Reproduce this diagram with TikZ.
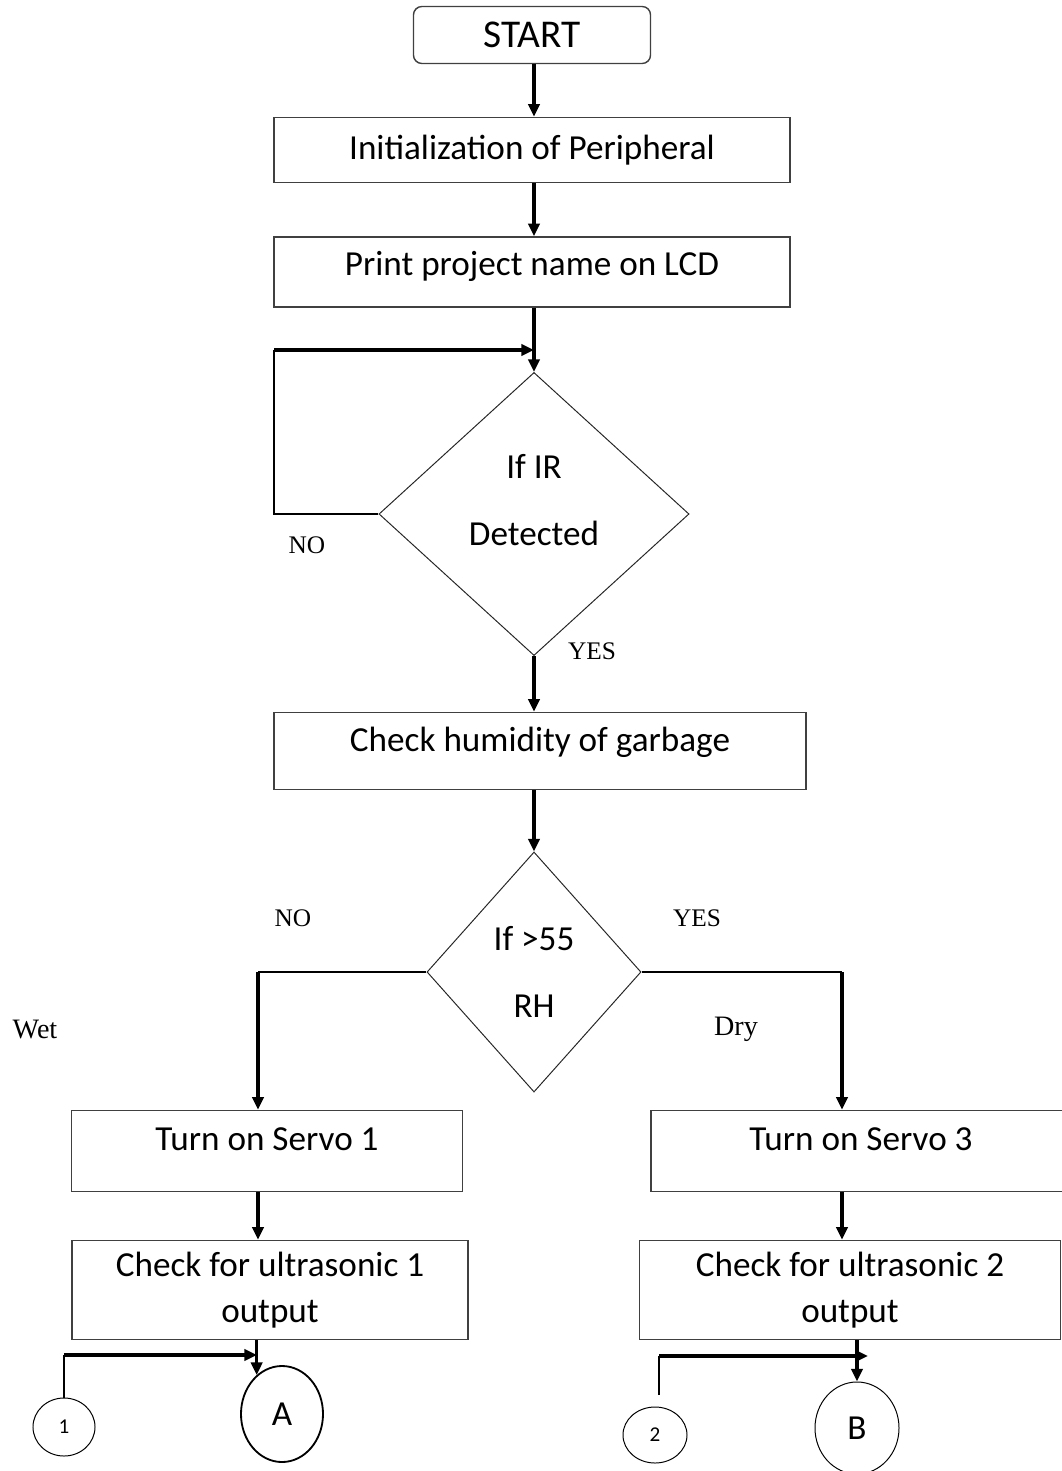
\documentclass[tikz,border=0pt]{standalone}
\usepackage{fontspec}
\setmainfont{Carlito}
\newfontfamily\lblfont{Liberation Serif}
\usetikzlibrary{shapes.geometric,arrows.meta,positioning}

\begin{document}
\begin{tikzpicture}[x=0.025cm, y=-0.025cm, align=center]
    \tikzset{
        n/.style        =   { rectangle
                            , draw=black!75
                            , line width=1pt
                            , font=\fontsize{25}{33}\selectfont
                            , inner sep=0pt
        }
        , dec/.style    =   { diamond
                            , draw=black!85
                            , line width=0.7pt
                            , inner sep=0pt
                            , font=\fontsize{25}{48}\selectfont
        }
        , conn/.style   =   { ellipse
                            , draw=black
                            , line width=0.7pt
                            , inner sep=0pt
        }
        , arrow/.style  =   { line width=2.2pt
                            , -{Triangle[length=9pt,width=8pt]}
        }
        , thinline/.style = { line width=1.3pt
        }
        , lbl/.style    =   { font=\lblfont\fontsize{18}{20}\selectfont
        }
    }
    \useasboundingbox (0,0) rectangle (1062,1471);

    % main column
    \node(start)[n, rounded corners=6pt, minimum width=5.925cm, minimum height=1.425cm, font=\fontsize{28}{30}\selectfont] at (532,35) {START};
    \node(init)[n, minimum width=12.9cm, minimum height=1.625cm] at (532,150) {Initialization of Peripheral};
    \node(print)[n, minimum width=12.9cm, minimum height=1.75cm, text depth=12pt] at (532,272) {Print project name on LCD};
    \node(ir)[dec, minimum width=7.75cm, minimum height=7.075cm, text depth=20pt] at (534,514) {If IR\\Detected};
    \node(humid)[n, minimum width=13.3cm, minimum height=1.925cm, text depth=16pt] at (540,751) {Check humidity of garbage};
    \node(rh)[dec, minimum width=5.35cm, minimum height=6cm] at (534,972) {If >55\\RH};

    % branches
    \node(servo1)[n, minimum width=9.775cm, minimum height=2.025cm, text depth=17pt] at (267,1151) {Turn on Servo 1};
    \node(servo3)[n, minimum width=10.5cm, minimum height=2.025cm, text depth=17pt] at (861,1151) {Turn on Servo 3};
    \node(ultra1)[n, minimum width=9.9cm, minimum height=2.475cm] at (270,1290) {Check for ultrasonic 1\\output};
    \node(ultra2)[n, minimum width=10.525cm, minimum height=2.475cm] at (850,1290) {Check for ultrasonic 2\\output};

    % connectors
    \node(one)[conn, minimum width=1.55cm, minimum height=1.45cm, font=\fontsize{15}{17}\selectfont] at (64,1427) {1};
    \node(A)[conn, line width=1.3pt, minimum width=2.05cm, minimum height=2.4cm, font=\fontsize{25}{30}\selectfont] at (282,1414) {A};
    \node(two)[conn, minimum width=1.6cm, minimum height=1.4cm, font=\fontsize{15}{17}\selectfont] at (655,1435) {2};
    \node(B)[conn, minimum width=2.1cm, minimum height=2.3cm, font=\fontsize{25}{30}\selectfont] at (857,1428) {B};

    % labels
    \node(no1)[lbl] at (307,545) {NO};
    \node(yes1)[lbl] at (592,651) {YES};
    \node(no2)[lbl] at (293,918) {NO};
    \node(yes2)[lbl] at (697,918) {YES};
    \node(wet)[lbl, font=\lblfont\fontsize{20}{22}\selectfont] at (35,1029) {Wet};
    \node(dry)[lbl, font=\lblfont\fontsize{20}{22}\selectfont] at (736,1029) {Dry};

    \coordinate(loopcn) at (274,350);
    \coordinate(loopin) at (534,350);
    \coordinate(wetx)   at (258,0);
    \coordinate(dryx)   at (842,0);
    \coordinate(jA)     at (257,1355);
    \coordinate(jB)     at (868,1356);
    \coordinate(twoup)  at (659,1395);

    \draw[arrow] (start.south -| loopin) -- (init.north -| loopin);
    \draw[arrow] (init.south -| loopin) -- (print.north -| loopin);
    \draw[arrow] (print.south -| loopin) -- (ir.north);
    \draw[thinline] (ir.west) -| (loopcn);
    \draw[arrow, line width=2.8pt] (loopcn) -- (loopin);
    \draw[arrow] (ir.south) -- (ir.south |- humid.north);
    \draw[arrow] (rh.north |- humid.south) -- (rh.north);

    \draw[thinline] (rh.west) -| (wetx |- rh.west);
    \draw[arrow] (wetx |- rh.west) -- (wetx |- servo1.north);
    \draw[thinline] (rh.east) -| (dryx |- rh.east);
    \draw[arrow] (dryx |- rh.east) -- (dryx |- servo3.north);
    \draw[arrow] (wetx |- servo1.south) -- (wetx |- ultra1.north);
    \draw[arrow] (dryx |- servo3.south) -- (dryx |- ultra2.north);

    \draw[arrow] (A.123 |- ultra1.south) -- (A.123);
    \draw[thinline] (one.north) -- (one.north |- jA);
    \draw[arrow] (one.north |- jA) -- (jA);
    \draw[arrow] (B.north |- ultra2.south) -- (B.north);
    \draw[thinline] (twoup) -- (twoup |- jB);
    \draw[arrow] (twoup |- jB) -- (jB);
\end{tikzpicture}
\end{document}
